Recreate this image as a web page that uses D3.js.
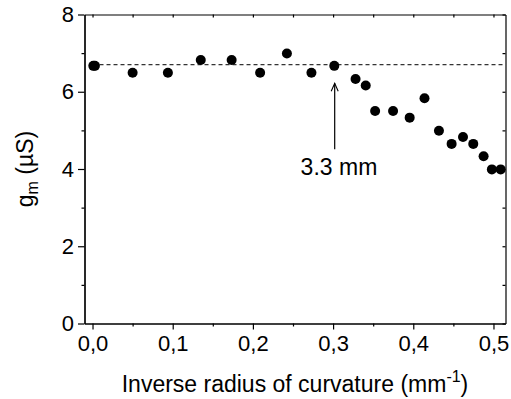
<!DOCTYPE html>
<html>
<head>
<meta charset="utf-8">
<script src="https://cdn.jsdelivr.net/npm/d3@7"></script>
<style>
  html, body { margin: 0; padding: 0; background: #fff; }
  svg { display: block; font-family: "Liberation Sans", Arial, sans-serif; }
  .tick text { font-size: 22px; fill: #000; }
</style>
</head>
<body>
<div id="chart"></div>
<script>
// values
const curvature = [0.001, 0.003, 0.05, 0.094, 0.135, 0.1735, 0.209, 0.2424, 0.273, 0.3015,
  0.328, 0.3407, 0.3524, 0.3748, 0.3955, 0.414, 0.432, 0.4478, 0.462, 0.4748, 0.4877, 0.498, 0.509];
const gm = [6.67, 6.67, 6.49, 6.49, 6.82, 6.82, 6.49, 6.99, 6.49, 6.67,
  6.33, 6.16, 5.5, 5.5, 5.33, 5.83, 4.99, 4.65, 4.83, 4.65, 4.33, 3.99, 3.99];
const xMajor = [0, 0.1, 0.2, 0.3, 0.4, 0.5];
const xMinor = [0.05, 0.15, 0.25, 0.35, 0.45];
const yMajor = [0, 2, 4, 6, 8];
const yMinor = [1, 3, 5, 7];
const plateau = 6.7;
const arrowAt = { x: 0.302, from: 4.51, to: 6.22, label: '3.3 mm', lx: 0.2595, ly: 3.84 };

const W = 511, H = 399;
const m = { l: 84.5, r: 5.5, t: 14.5, b: 75.5 };

const svg = d3.select('#chart').append('svg').attr('width', W).attr('height', H);

const x = d3.scaleLinear().domain([-0.01, 0.515]).range([m.l, W - m.r]);
const y = d3.scaleLinear().domain([0, 8]).range([H - m.b, m.t]);
const comma = v => d3.format('.1f')(v).replace('.', ',');

// frame axes
svg.append('g').attr('transform', `translate(0,${y(0)})`)
  .call(d3.axisBottom(x).tickValues(xMajor).tickFormat(comma).tickSize(6).tickSizeOuter(0).tickPadding(6));
svg.append('g').attr('transform', `translate(0,${y(0)})`)
  .call(d3.axisBottom(x).tickValues(xMinor).tickFormat('').tickSize(3).tickSizeOuter(0));
svg.append('g').attr('transform', `translate(0,${y(8)})`)
  .call(d3.axisTop(x).tickValues(xMajor.concat(xMinor)).tickFormat('').tickSize(-3).tickSizeOuter(0));

svg.append('g').attr('transform', `translate(${x(-0.01)},0)`)
  .call(d3.axisLeft(y).tickValues(yMajor).tickFormat(d3.format('d')).tickSize(6.5).tickSizeOuter(0).tickPadding(4));
svg.append('g').attr('transform', `translate(${x(-0.01)},0)`)
  .call(d3.axisLeft(y).tickValues(yMinor).tickFormat('').tickSize(3).tickSizeOuter(0));
svg.append('g').attr('transform', `translate(${x(0.515)},0)`)
  .call(d3.axisRight(y).tickValues(yMajor.concat(yMinor)).tickFormat('').tickSize(-3).tickSizeOuter(0));

svg.selectAll('.domain, .tick line').attr('stroke', '#000').attr('stroke-width', 1.2);

// plateau reference
svg.append('line')
  .attr('x1', x(0)).attr('x2', x(0.515))
  .attr('y1', y(plateau)).attr('y2', y(plateau))
  .attr('stroke', '#000').attr('stroke-width', 1).attr('stroke-dasharray', '4,3');

// points
svg.append('g').selectAll('circle').data(curvature).join('circle')
  .attr('cx', d => x(d)).attr('cy', (d, i) => y(gm[i])).attr('r', 5).attr('fill', '#000');

// arrow + label
const ax = x(arrowAt.x), ay = y(arrowAt.to);
svg.append('line').attr('x1', ax).attr('x2', ax).attr('y1', y(arrowAt.from)).attr('y2', ay)
  .attr('stroke', '#000').attr('stroke-width', 1.2);
svg.append('path').attr('d', `M${ax - 3.5},${ay + 8} L${ax},${ay} L${ax + 3.5},${ay + 8}`)
  .attr('fill', 'none').attr('stroke', '#000').attr('stroke-width', 1.1);
svg.append('text').attr('x', x(arrowAt.lx)).attr('y', y(arrowAt.ly))
  .style('font-size', '23px').text(arrowAt.label);

// axis titles
const xt = svg.append('text').attr('x', (x(-0.01) + x(0.515)) / 2).attr('y', 391.5)
  .attr('text-anchor', 'middle').style('font-size', '23px');
xt.append('tspan').text('Inverse radius of curvature (mm');
xt.append('tspan').attr('dy', -10).style('font-size', '16px').text('-1');
xt.append('tspan').attr('dy', 10).text(')');

const yt = svg.append('text').attr('transform', `translate(33,${(y(0) + y(8)) / 2}) rotate(-90)`)
  .attr('text-anchor', 'middle').style('font-size', '23px');
yt.append('tspan').text('g');
yt.append('tspan').attr('dy', 5).style('font-size', '16px').text('m');
yt.append('tspan').attr('dy', -5).text(' (µS)');
</script>
</body>
</html>
